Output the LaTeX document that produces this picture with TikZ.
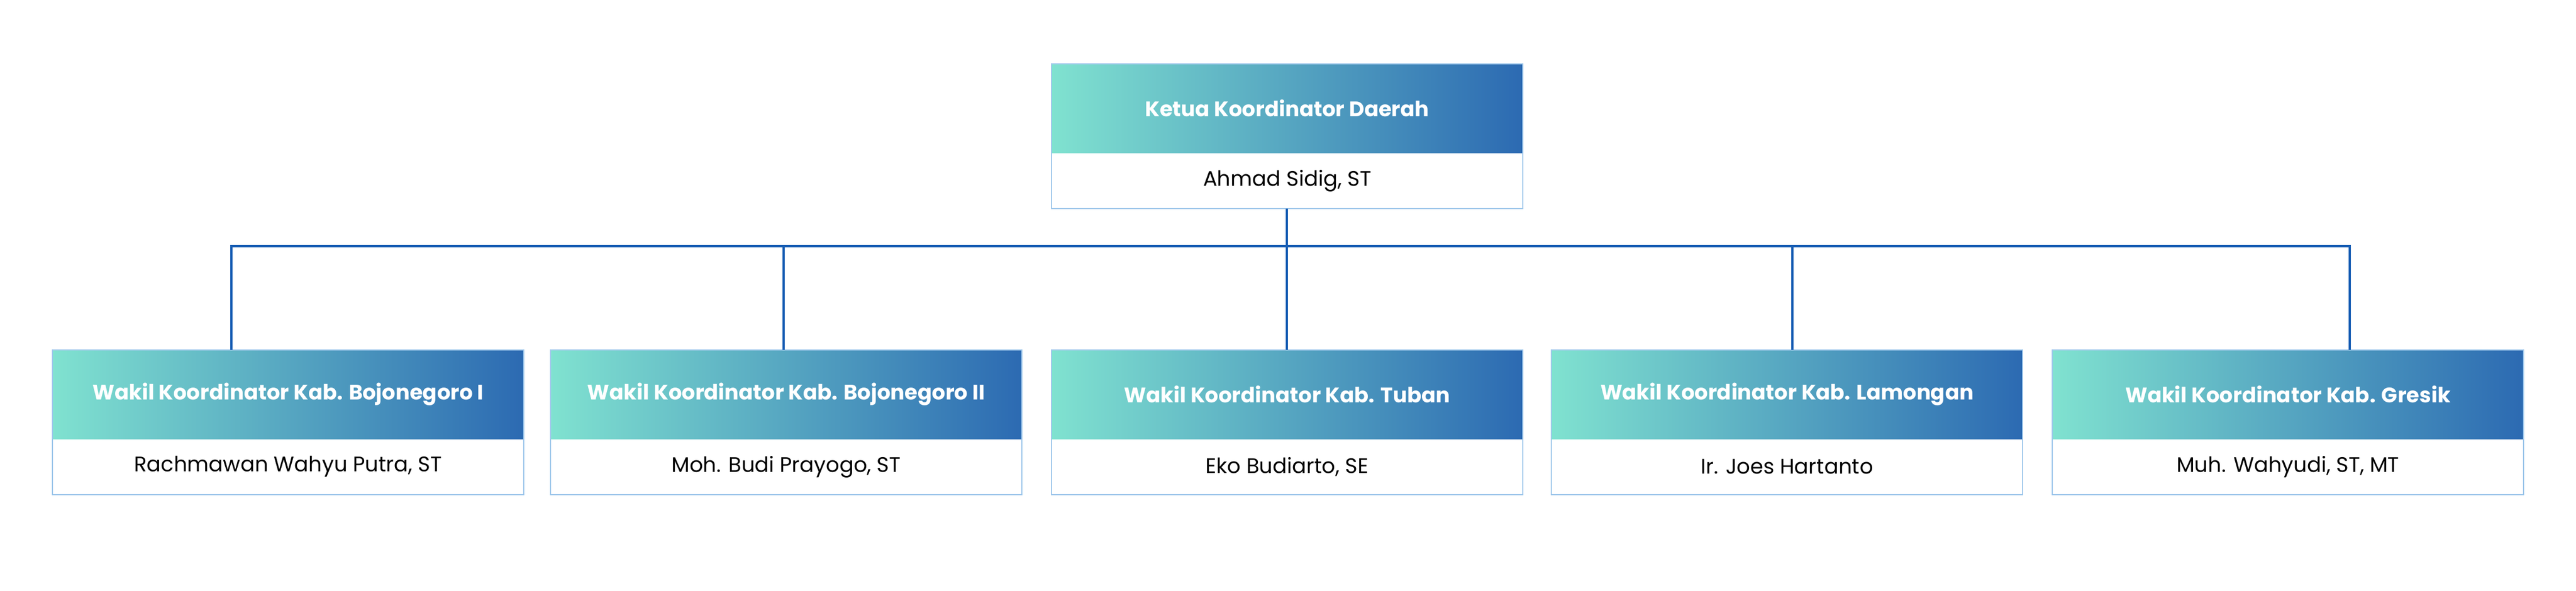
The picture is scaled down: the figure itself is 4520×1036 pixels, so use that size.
\documentclass[tikz,border=0pt]{standalone}
\usepackage{fontspec}
\setmainfont{Poppins}
\definecolor{gA}{RGB}{128,226,208}
\definecolor{gB}{RGB}{44,106,178}
\definecolor{ln}{RGB}{26,95,180}
\definecolor{bd}{RGB}{160,200,235}
\begin{document}
\begin{tikzpicture}[x=0.01cm,y=-0.01cm,
  hdr/.style={left color=gA,right color=gB,draw=none},
  conn/.style={draw=ln,line width=1.2pt}]
\useasboundingbox (0,0) rectangle (4520,1036);
\newcommand{\orgbox}[5]{% name, left, top, title, person
  \shade[hdr] (#2,#3) rectangle ++(827,156);
  \draw[bd,line width=0.6pt] (#2,#3) rectangle ++(827,254);
  \node[text=white,font=\bfseries\fontsize{10.5}{12}\selectfont] (#1t) at (#2+413.5,#3+78) {#4};
  \node[text=black,font=\fontsize{10.5}{12}\selectfont] (#1) at (#2+413.5,#3+205) {#5};
  \coordinate (#1top) at (#2+413.5,#3);
}
\orgbox{k}{1845}{112}{Ketua Koordinator Daerah}{Ahmad Sidig, ST}
\orgbox{a}{92}{614}{Wakil Koordinator Kab. Bojonegoro I}{Rachmawan Wahyu Putra, ST}
\orgbox{b}{966}{614}{Wakil Koordinator Kab. Bojonegoro II}{Moh. Budi Prayogo, ST}
\orgbox{c}{1845}{614}{Wakil Koordinator Kab. Tuban}{Eko Budiarto, SE}
\orgbox{d}{2722}{614}{Wakil Koordinator Kab. Lamongan}{Ir. Joes Hartanto}
\orgbox{e}{3601}{614}{Wakil Koordinator Kab. Gresik}{Muh. Wahyudi, ST, MT}
\coordinate (kb) at (2258,366);
\coordinate (bar) at (2258,432);
\draw[conn] (kb) -- (2258,614);
\draw[conn] (406,614) -- (406,432) -- (4123,432) -- (4123,614);
\draw[conn] (1375,432) -- (1375,614);
\draw[conn] (3145,432) -- (3145,614);
\end{tikzpicture}
\end{document}
